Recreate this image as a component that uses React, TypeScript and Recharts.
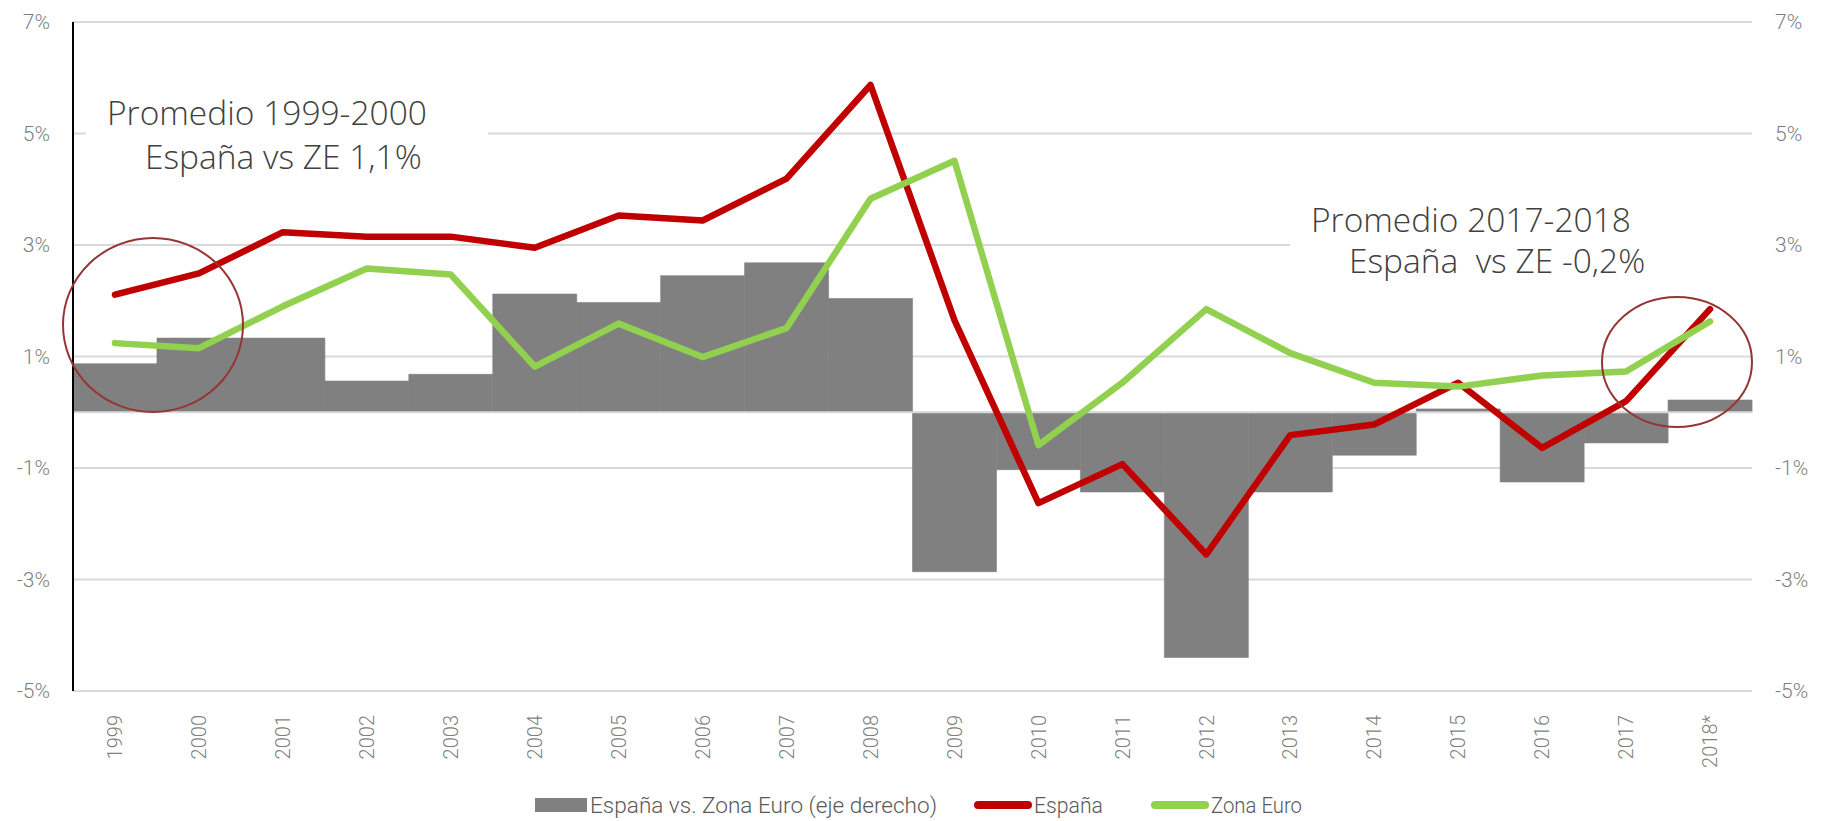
import React from "react";
import {
  ComposedChart, Bar, Line, XAxis, YAxis, CartesianGrid, ReferenceLine,
} from "recharts";

// años (eje X)
const years = [
  "1999", "2000", "2001", "2002", "2003", "2004", "2005", "2006", "2007", "2008",
  "2009", "2010", "2011", "2012", "2013", "2014", "2015", "2016", "2017", "2018*",
];

// crecimiento España (%)
const espana = [
  2.11, 2.49, 3.23, 3.15, 3.15, 2.95, 3.53, 3.44, 4.19, 5.87,
  1.65, -1.63, -0.93, -2.55, -0.41, -0.22, 0.53, -0.64, 0.2, 1.85,
];

// crecimiento Zona Euro (%)
const zonaEuro = [
  1.24, 1.15, 1.9, 2.58, 2.47, 0.82, 1.59, 0.99, 1.51, 3.83,
  4.51, -0.59, 0.53, 1.85, 1.06, 0.53, 0.46, 0.66, 0.73, 1.63,
];

// diferencial España vs. Zona Euro (eje derecho)
const diferencial = [
  0.87, 1.33, 1.33, 0.56, 0.68, 2.12, 1.97, 2.45, 2.68, 2.04,
  -2.86, -1.03, -1.43, -4.4, -1.43, -0.77, 0.06, -1.25, -0.55, 0.22,
];

const yTicks = [-5, -3, -1, 1, 3, 5, 7];

const data = years.map((y, i) => ({
  year: y,
  espana: espana[i],
  ze: zonaEuro[i],
  dif: diferencial[i],
}));

const RED = "#C00000";
const GREEN = "#92D050";
const GREY = "#808080";
const GRID = "#D9D9D9";
const CIRCLE = "#943634";

const W = 1828;
const H = 821;

const pct = (v: number) => `${v}%`;

const axisTick = { fill: "#7F7F7F", fontSize: 21, fontFamily: "Roboto", fontWeight: 300 };

const YearTick = (props: any) => {
  const { x, y, payload } = props;
  return (
    <text
      x={x}
      y={y + 16}
      transform={`rotate(-90, ${x}, ${y + 16})`}
      textAnchor="end"
      dy="0.36em"
      fill="#7F7F7F"
      fontSize={20}
      fontFamily="Roboto"
      fontWeight={300}
    >
      {payload.value}
    </text>
  );
};

const noteFont = { fontFamily: "Open Sans", fontWeight: 300, fontSize: 33.5, fill: "#404040" };

export default function App() {
  return (
    <div style={{ position: "absolute", left: 0, top: 0, width: W, height: H, background: "#fff" }}>
      <ComposedChart
        width={W}
        height={H}
        data={data}
        margin={{ top: 22, right: 0, bottom: 50, left: 0 }}
        barCategoryGap={0}
        barGap={0}
      >
        <CartesianGrid vertical={false} stroke={GRID} strokeWidth={2} yAxisId="left" />
        <XAxis
          dataKey="year"
          axisLine={false}
          tickLine={false}
          height={80}
          interval={0}
          tick={<YearTick />}
        />
        <YAxis
          yAxisId="left"
          domain={[-5, 7]}
          ticks={yTicks}
          tickFormatter={pct}
          width={73}
          axisLine={{ stroke: "#000", strokeWidth: 2 }}
          tickLine={false}
          tickSize={0}
          tickMargin={23}
          tick={axisTick}
        />
        <YAxis
          yAxisId="right"
          orientation="right"
          domain={[-5, 7]}
          ticks={yTicks}
          tickFormatter={pct}
          width={76}
          axisLine={false}
          tickLine={false}
          tickSize={0}
          tickMargin={23}
          tick={{ ...axisTick, textAnchor: "start" }}
        />
        <Bar
          yAxisId="right"
          dataKey="dif"
          fill={GREY}
          stroke={GREY}
          strokeWidth={0.6}
          isAnimationActive={false}
        />
        <ReferenceLine yAxisId="left" y={0} stroke={GRID} strokeWidth={2} />
        <Line
          yAxisId="left"
          dataKey="espana"
          type="linear"
          stroke={RED}
          strokeWidth={6.5}
          strokeLinecap="round"
          strokeLinejoin="round"
          dot={false}
          isAnimationActive={false}
        />
        <Line
          yAxisId="left"
          dataKey="ze"
          type="linear"
          stroke={GREEN}
          strokeWidth={6.5}
          strokeLinecap="round"
          strokeLinejoin="round"
          dot={false}
          isAnimationActive={false}
        />
      </ComposedChart>

      {/* anotaciones y leyenda */}
      <svg
        width={W}
        height={H}
        style={{ position: "absolute", left: 0, top: 0, pointerEvents: "none" }}
      >
        <rect x={86} y={88} width={402} height={96} fill="#fff" />
        <text x={107} y={125} {...noteFont}>Promedio 1999-2000</text>
        <text x={145} y={169} {...noteFont}>España vs ZE 1,1%</text>

        <rect x={1290} y={198} width={462} height={88} fill="#fff" />
        <text x={1311} y={232} {...noteFont}>Promedio 2017-2018</text>
        <text x={1349} y={273} {...noteFont} style={{ whiteSpace: "pre" }}>España  vs ZE -0,2%</text>

        <ellipse cx={153} cy={325} rx={90} ry={87} fill="none" stroke={CIRCLE} strokeWidth={2} />
        <ellipse cx={1677} cy={362} rx={75} ry={65} fill="none" stroke={CIRCLE} strokeWidth={2} />

        <g fontFamily="Roboto" fontWeight={300} fontSize={22} fill="#595959">
          <rect x={535} y={798} width={52} height={14} fill={GREY} />
          <text x={590} y={813} textLength={347} lengthAdjust="spacingAndGlyphs">
            España vs. Zona Euro (eje derecho)
          </text>
          <line x1={978} y1={805} x2={1028} y2={805} stroke={RED} strokeWidth={8} strokeLinecap="round" />
          <text x={1034} y={813} textLength={69} lengthAdjust="spacingAndGlyphs">España</text>
          <line x1={1155} y1={805} x2={1205} y2={805} stroke={GREEN} strokeWidth={8} strokeLinecap="round" />
          <text x={1211} y={813} textLength={91} lengthAdjust="spacingAndGlyphs">Zona Euro</text>
        </g>
      </svg>
    </div>
  );
}
